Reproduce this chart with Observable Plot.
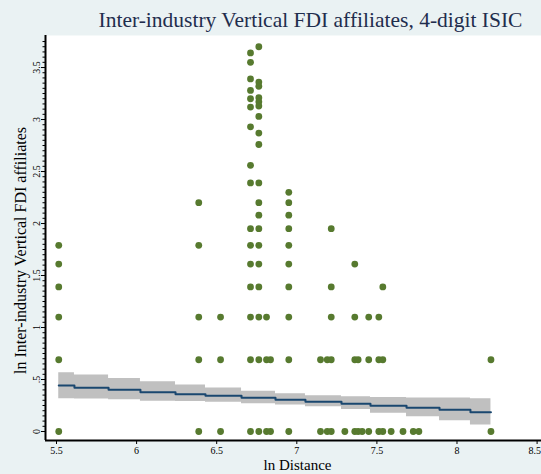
<!DOCTYPE html>
<html>
<head>
<meta charset="utf-8">
<script src="https://cdn.jsdelivr.net/npm/d3@7"></script>
<script src="https://cdn.jsdelivr.net/npm/@observablehq/plot@0.6"></script>
<style>
  html, body { margin: 0; padding: 0; background: #eaf2f3; }
  #chart svg { display: block; }
</style>
</head>
<body>
<div id="chart"></div>
<script>
// ---- Data ----
const titleText = "Inter-industry Vertical FDI affiliates, 4-digit ISIC";
const xLabel = "ln Distance";
const yLabel = "ln Inter-industry Vertical FDI affiliates";

const xTicks = [5.5, 6, 6.5, 7, 7.5, 8, 8.5];
const xTickLabels = ["5.5", "6", "6.5", "7", "7.5", "8", "8.5"];
const yTicks = [0, 0.5, 1, 1.5, 2, 2.5, 3, 3.5];
const yTickLabels = ["0", ".5", "1", "1.5", "2", "2.5", "3", "3.5"];

// ln distance of each column of observations
const colDistance = [5.514, 6.388, 6.524, 6.711, 6.763, 6.811, 6.836, 6.950, 7.148, 7.190,
  7.215, 7.300, 7.362, 7.383, 7.408, 7.449, 7.512, 7.537, 7.589, 7.663, 7.727, 7.762, 8.212];
// ln affiliates observed in each column
const colAffiliates = [
  [1.79, 1.61, 1.39, 1.10, 0.69, 0],
  [2.20, 1.79, 1.10, 0.69, 0],
  [1.10, 0.69, 0],
  [3.64, 3.55, 3.39, 3.28, 3.20, 3.12, 2.93, 2.56, 2.39, 1.95, 1.79, 1.61, 1.39, 1.10, 0.69, 0],
  [3.70, 3.36, 3.32, 3.21, 3.17, 3.13, 3.03, 2.87, 2.76, 2.39, 2.20, 2.08, 1.95, 1.79, 1.61, 1.39, 1.10, 0.69, 0],
  [1.10, 0.69, 0],
  [0.69, 0],
  [2.30, 2.20, 2.08, 1.95, 1.79, 1.61, 1.39, 1.10, 0.69, 0],
  [0.69, 0],
  [0.69, 0],
  [1.95, 1.39, 1.10, 0.69, 0],
  [0],
  [1.61, 1.10, 0.69, 0],
  [0.69, 0],
  [0],
  [1.10, 0.69, 0],
  [1.10, 0.69, 0],
  [1.39, 0.69, 0],
  [0],
  [0],
  [0],
  [0],
  [0.69, 0]
];

// fitted line with confidence band
const fitX  = [5.514, 5.612, 5.825, 6.024, 6.243, 6.430, 6.655, 6.867, 7.054, 7.279, 7.460, 7.685, 7.891, 8.084, 8.212];
const fitY  = [0.442, 0.420, 0.401, 0.378, 0.359, 0.343, 0.324, 0.305, 0.286, 0.266, 0.247, 0.228, 0.209, 0.186, 0.186];
const fitHi = [0.566, 0.543, 0.510, 0.478, 0.447, 0.418, 0.386, 0.362, 0.345, 0.334, 0.327, 0.322, 0.322, 0.315, 0.315];
const fitLo = [0.315, 0.312, 0.305, 0.291, 0.288, 0.282, 0.268, 0.255, 0.238, 0.212, 0.176, 0.142, 0.104, 0.062, 0.051];

// ---- Build tables ----
const points = colDistance.flatMap((d, i) => colAffiliates[i].map(v => ({x: d, y: v})));
const fit = fitX.map((x, i) => ({x, y: fitY[i], lo: fitLo[i], hi: fitHi[i]}));

const xDomain = [5.4313, 8.5275];
const yDomain = [-0.0865, 3.808];
const minorY = d3.range(0, 3.80, 0.05);

const serif = "'Liberation Serif', 'Times New Roman', serif";
const lastX = xTicks.length - 1;

const chart = Plot.plot({
  width: 541,
  height: 474,
  marginLeft: 45,
  marginRight: 0,
  marginTop: 35,
  marginBottom: 34,
  x: {domain: xDomain, axis: null},
  y: {domain: yDomain, axis: null},
  style: {background: "#eaf2f3", fontFamily: serif, color: "black"},
  marks: [
    Plot.frame({fill: "white", stroke: "none"}),
    Plot.dot(points, {x: "x", y: "y", r: 3.4, fill: "#577a2f", stroke: "none"}),
    Plot.areaY(fit, {x: "x", y1: "lo", y2: "hi", curve: "step-after", fill: "#c0c0c0"}),
    Plot.line(fit, {x: "x", y: "y", curve: "step-after", stroke: "#1a476f", strokeWidth: 2}),
    // axis lines
    Plot.ruleX([xDomain[0]], {stroke: "black", strokeWidth: 2}),
    Plot.ruleY([yDomain[0]], {stroke: "black", strokeWidth: 2}),
    // y ticks
    Plot.axisY({ticks: minorY, tickSize: 2.5, fill: "none", label: null, stroke: "black"}),
    Plot.axisY({ticks: yTicks, tickSize: 4, fill: "none", label: null, stroke: "black"}),
    Plot.text(yTicks, {y: d => d, text: (d, i) => yTickLabels[i], frameAnchor: "left",
      textAnchor: "middle", lineAnchor: "middle", dx: -9, rotate: -90, fontSize: 10, fill: "black"}),
    // x ticks
    Plot.axisX({ticks: xTicks, tickSize: 4, fill: "none", label: null, stroke: "black"}),
    Plot.text(xTicks.slice(0, lastX), {x: d => d, text: (d, i) => xTickLabels[i], frameAnchor: "bottom",
      lineAnchor: "middle", textAnchor: "middle", dy: 10, fontSize: 10, fill: "black"}),
    Plot.text([xTicks[lastX]], {x: d => d, text: () => xTickLabels[lastX], frameAnchor: "bottom",
      lineAnchor: "middle", textAnchor: "end", dx: 4, dy: 10, fontSize: 10, fill: "black"}),
    // titles
    Plot.text([titleText], {text: d => d, frameAnchor: "top", textAnchor: "middle", lineAnchor: "middle",
      dx: 17, dy: -15, fontSize: 21.5, fill: "#1f2d4d"}),
    Plot.text([xLabel], {text: d => d, frameAnchor: "bottom", textAnchor: "middle", lineAnchor: "middle",
      dx: 4, dy: 25, fontSize: 15, fill: "black"}),
    Plot.text([yLabel], {text: d => d, frameAnchor: "left", textAnchor: "middle", lineAnchor: "middle",
      dx: -25, dy: 12.5, rotate: -90, fontSize: 16, fill: "black"})
  ]
});

document.getElementById("chart").appendChild(chart);
</script>
</body>
</html>
